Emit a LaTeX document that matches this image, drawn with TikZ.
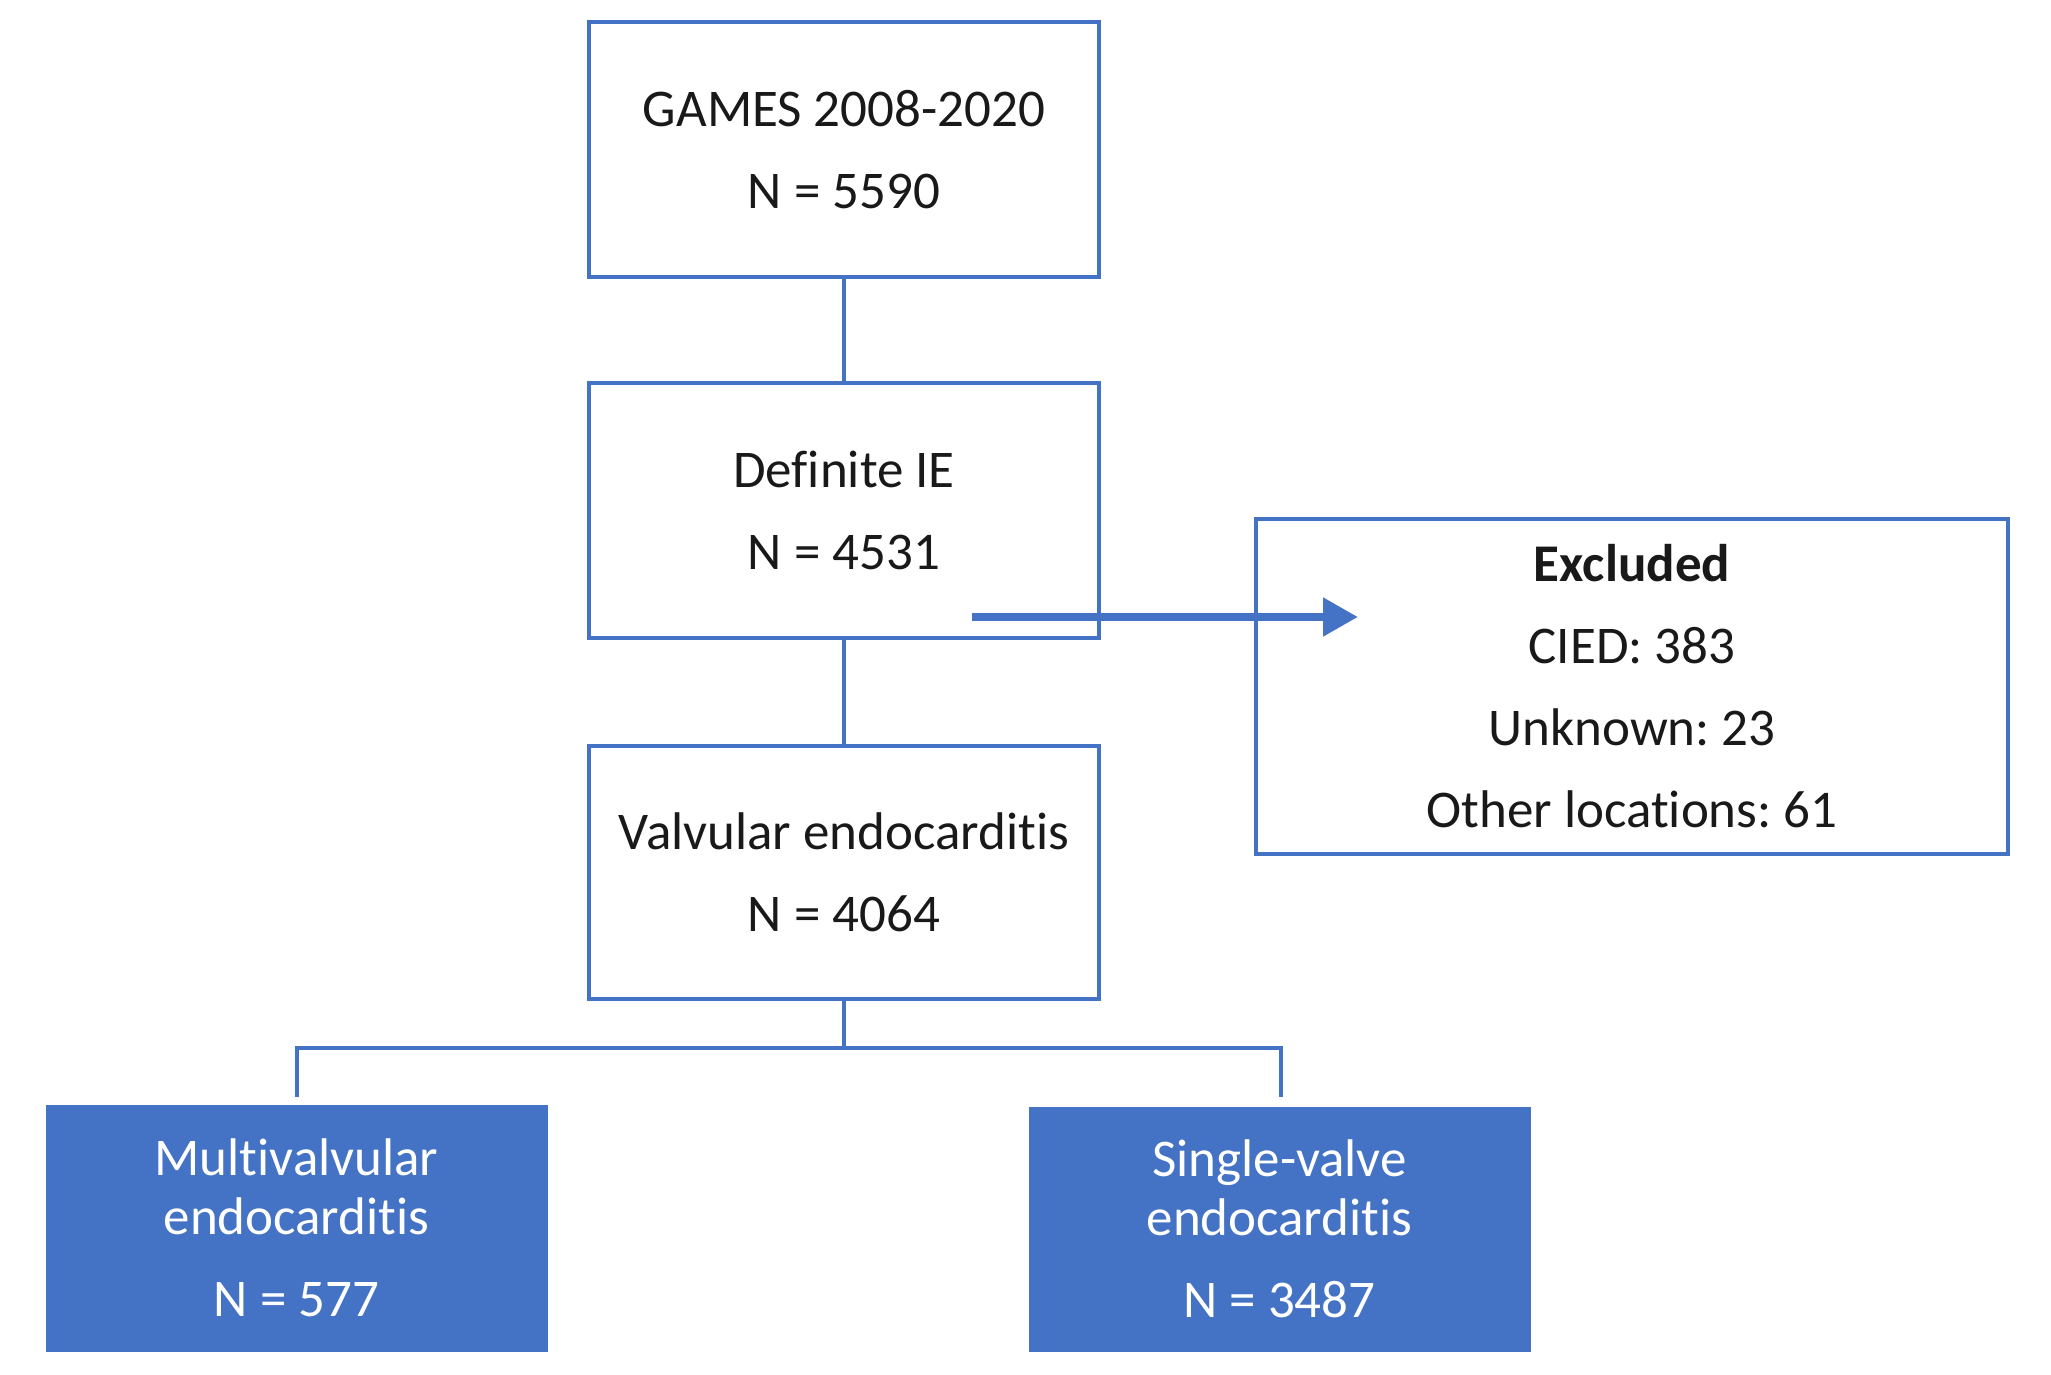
\documentclass[tikz,border=0pt]{standalone}
\usepackage{fontspec}
\setmainfont{Carlito}[Ligatures={NoCommon,NoRare},RawFeature={-liga;-dlig}]
\frenchspacing
\usetikzlibrary{arrows.meta,calc}
\definecolor{officeblue}{HTML}{4472C4}
\tikzset{
  flowbox/.style={draw=officeblue, line width=4.3pt, fill=white, inner sep=0pt, align=center,
    font=\fontsize{53}{82}\selectfont, text=black!90},
  resultbox/.style={draw=officeblue, fill=officeblue, line width=1pt, inner sep=0pt, align=center,
    font=\fontsize{53}{82}\selectfont, text=white},
  link/.style={draw=officeblue, line width=4.3pt},
  bigarrow/.style={draw=officeblue, line width=8pt, -{Triangle[length=35pt,width=37pt]}}
}
\begin{document}
\begin{tikzpicture}[x=1pt,y=-1pt]
\useasboundingbox (0,0) rectangle (2051,1374);
\node[flowbox, minimum width=510pt, minimum height=255pt] (games) at (844,149.5) {GAMES 2008-2020\\N = 5590};
\node[flowbox, minimum width=510pt, minimum height=255pt] (def) at (844,510.5) {Definite IE\\N = 4531};
\node[flowbox, minimum width=510pt, minimum height=253pt] (valv) at (844,872.5) {Valvular endocarditis\\N = 4064};
\node[flowbox, minimum width=752pt, minimum height=335pt] (excl) at (1632,686.5) {\textbf{Excluded}\\CIED: 383\\Unknown: 23\\Other locations: 61};
\node[resultbox, minimum width=501pt, minimum height=246pt] (multi) at (296.5,1228) {Multivalvular\\[-23pt]endocarditis\\N = 577};
\node[resultbox, minimum width=501pt, minimum height=244pt] (single) at (1279.5,1229) {Single-valve\\[-23pt]endocarditis\\N = 3487};

\draw[link] (games.south) -- (def.north);
\draw[link] (def.south) -- (valv.north);
\coordinate (brk) at (844,1048);
\coordinate (mtop) at (297,1097);
\coordinate (stop) at (1281,1097);
\draw[link] (valv.south) -- (brk);
\draw[link] (mtop) |- (brk) -| (stop);

\coordinate (astart) at (972,617);
\coordinate (aend) at (1358,617);
\draw[bigarrow] (astart) -- (aend);
\end{tikzpicture}
\end{document}
